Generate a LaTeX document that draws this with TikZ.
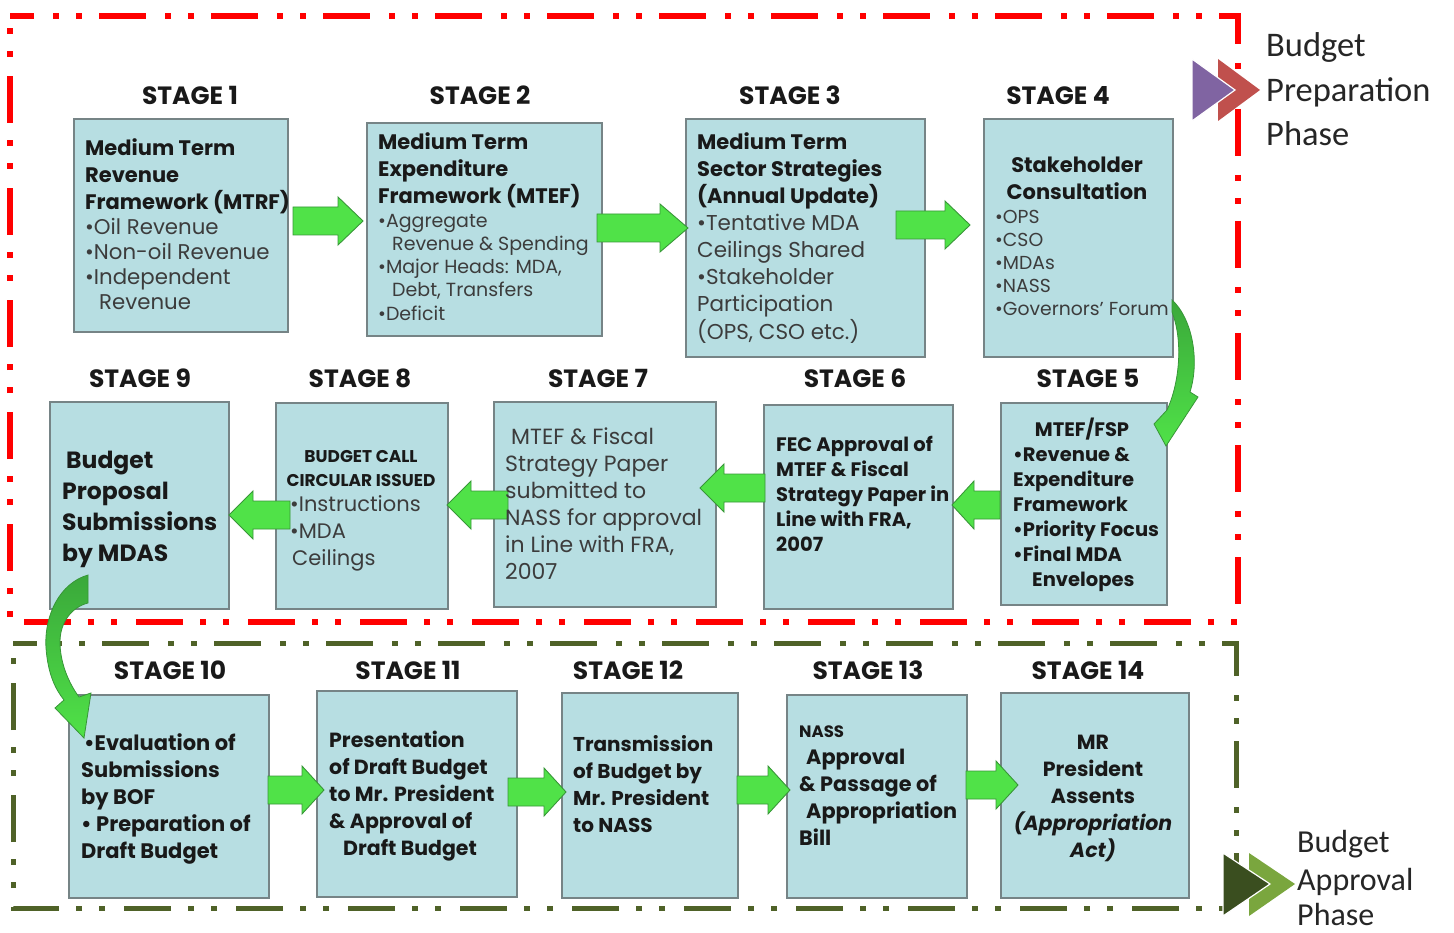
\documentclass[tikz,border=0pt]{standalone}
\usepackage{fontspec}
\setmainfont{Poppins}
\newfontfamily\calib{Carlito}
\usetikzlibrary{calc}
\definecolor{boxfill}{RGB}{183,222,226}
\definecolor{boxline}{RGB}{118,132,134}
\definecolor{agreen}{RGB}{80,226,72}
\definecolor{agreenline}{RGB}{56,150,56}
\definecolor{dgreen}{RGB}{58,168,58}
\definecolor{redb}{RGB}{255,0,0}
\definecolor{oliveb}{RGB}{79,98,40}
\definecolor{purp}{RGB}{128,100,162}
\definecolor{redchev}{RGB}{192,80,77}
\definecolor{dkgreen}{RGB}{58,78,31}
\definecolor{ltgreen}{RGB}{122,166,62}
\definecolor{txt}{RGB}{25,25,25}
\definecolor{txtg}{RGB}{60,60,60}
\definecolor{lbl}{RGB}{38,38,38}
\newcommand{\fb}[1]{\fontsize{#1}{#1}\selectfont\bfseries}
\newcommand{\fr}[1]{\fontsize{#1}{#1}\selectfont}
\newcommand{\tlines}[7]{%
  \foreach \s [count=\i] in {#7} {
    \node[#6, anchor=#2] (#1-\i) at (#3, {#4+(\i-1)*#5}) {\s};
  }}
\newcommand{\rarr}[4]{% tail x, tip x, center y, head length
  \draw[blk] (#1,#3-14) -- (#2-#4,#3-14) -- (#2-#4,#3-24) -- (#2,#3)
    -- (#2-#4,#3+24) -- (#2-#4,#3+14) -- (#1,#3+14) -- cycle;}
\newcommand{\larr}[4]{% tail x, tip x, center y, head length
  \draw[blk] (#1,#3-14) -- (#2+#4,#3-14) -- (#2+#4,#3-24) -- (#2,#3)
    -- (#2+#4,#3+24) -- (#2+#4,#3+14) -- (#1,#3+14) -- cycle;}
\begin{document}
\begin{tikzpicture}[x=1pt,y=-1pt,
  box/.style={draw=boxline, line width=1.6pt, fill=boxfill, anchor=north west, inner sep=0},
  stg/.style={font=\fb{25}, text=txt, anchor=base, inner sep=0},
  tb/.style={text=txt, inner sep=0},
  tr/.style={text=txtg, inner sep=0},
  blk/.style={fill=agreen, draw=agreenline, line width=0.9pt},
  curv/.style={draw=agreenline, line width=0.8pt},
  phase/.style={font=\calib\fontsize{34.5}{34.5}\selectfont, text=lbl, anchor=base west, inner sep=0},
  phaseb/.style={font=\calib\fontsize{32}{32}\selectfont, text=lbl, anchor=base west, inner sep=0},
  brd/.style={line width=6pt, dash pattern=on 47pt off 19pt on 6pt off 17pt on 6pt off 17pt, dash phase=23pt}
]
\useasboundingbox (0,0) rectangle (1454,933);
% borders
\draw[brd, draw=redb] (10,16) -- (1238,16) -- (1238,622) -- (10,622) -- cycle;
\draw[brd, draw=oliveb, line width=5pt] (13,643) -- (1236,643) -- (1236,908) -- (13,908) -- cycle;

% stage labels
\node[stg] (s1) at (190,105) {STAGE 1};
\node[stg] (s2) at (480,105) {STAGE 2};
\node[stg] (s3) at (790,105) {STAGE 3};
\node[stg] (s4) at (1058,105) {STAGE 4};
\node[stg] (s5) at (1088,387) {STAGE 5};
\node[stg] (s6) at (855,387) {STAGE 6};
\node[stg] (s7) at (598,387) {STAGE 7};
\node[stg] (s8) at (360,387) {STAGE 8};
\node[stg] (s9) at (140,387) {STAGE 9};
\node[stg] (s10) at (170,679) {STAGE 10};
\node[stg] (s11) at (408,679) {STAGE 11};
\node[stg] (s12) at (628,679) {STAGE 12};
\node[stg] (s13) at (868,679) {STAGE 13};
\node[stg] (s14) at (1088,679) {STAGE 14};

% boxes
\node[box, minimum width=214, minimum height=213] (b1) at (73,118) {};
\node[box, minimum width=235, minimum height=213] (b2) at (366,122) {};
\node[box, minimum width=239, minimum height=238] (b3) at (685,118) {};
\node[box, minimum width=189, minimum height=238] (b4) at (983,118) {};
\node[box, minimum width=166, minimum height=202] (b5) at (1000,402) {};
\node[box, minimum width=189, minimum height=204] (b6) at (763,404) {};
\node[box, minimum width=222, minimum height=205] (b7) at (493,401) {};
\node[box, minimum width=172, minimum height=206] (b8) at (275,402) {};
\node[box, minimum width=179, minimum height=207] (b9) at (49,401) {};
\node[box, minimum width=200, minimum height=203] (b10) at (68,694) {};
\node[box, minimum width=200, minimum height=206] (b11) at (316,690) {};
\node[box, minimum width=176, minimum height=205] (b12) at (561,692) {};
\node[box, minimum width=180, minimum height=203] (b13) at (786,694) {};
\node[box, minimum width=188, minimum height=205] (b14) at (1000,692) {};

% straight block arrows
\rarr{293}{363}{221}{25}
\rarr{597}{688}{228}{28}
\rarr{896}{970}{225}{25}
\larr{1000}{952}{505}{22}
\larr{765}{700}{488}{24}
\larr{508}{447}{505}{24}
\larr{290}{229}{515}{24}
\rarr{268}{324}{790}{22}
\rarr{508}{566}{792}{22}
\rarr{737}{790}{790}{22}
\rarr{966}{1018}{785}{22}

% curved arrow stage 4 -> stage 5
\draw[curv, top color=dgreen, bottom color=agreen]
  (1172,300) .. controls (1192,318) and (1200,360) .. (1190,392)
  -- (1198,397) -- (1166,446) -- (1154,424) -- (1167,410)
  .. controls (1180,382) and (1183,340) .. (1172,312) -- cycle;

% texts
\tlines{t1}{base west}{85}{156}{27}{tb, font=\fb{21}}{{Medium Term},{Revenue},{Framework (MTRF)}}
\tlines{u1}{base west}{85}{235}{25}{tr, font=\fr{21.3}}{{•Oil Revenue},{•Non-oil Revenue},{•Independent},{\hspace{14pt}Revenue}}

\tlines{t2}{base west}{378}{150}{27}{tb, font=\fb{21}}{{Medium Term},{Expenditure},{Framework (MTEF)}}
\tlines{u2}{base west}{378}{228}{23}{tr, font=\fr{19}}{{•Aggregate},{\hspace{14pt}Revenue \& Spending},{•Major Heads: MDA,},{\hspace{14pt}Debt, Transfers},{•Deficit}}

\tlines{t3}{base west}{697}{150}{27}{tb, font=\fb{21}}{{Medium Term},{Sector Strategies},{(Annual Update)}}
\tlines{u3}{base west}{697}{231}{27}{tr, font=\fr{21.5}}{{•Tentative MDA},{Ceilings Shared},{•Stakeholder},{Participation},{(OPS, CSO etc.)}}

\tlines{t4}{base}{1077}{173}{27}{tb, font=\fb{21}}{{Stakeholder},{Consultation}}
\tlines{u4}{base west}{995}{224}{23}{tr, font=\fr{18.8}}{{•OPS},{•CSO},{•MDAs},{•NASS},{•Governors' Forum}}

\node[tb, font=\fb{19.5}, anchor=base] (t5-0) at (1082,436) {MTEF/FSP};
\tlines{t5}{base west}{1013}{461}{25}{tb, font=\fb{19.5}}{{•Revenue \&},{Expenditure},{Framework},{•Priority Focus},{•Final MDA},{\hspace{19pt}Envelopes}}

\tlines{t6}{base west}{776}{451}{25}{tb, font=\fb{19.5}}{{FEC Approval of},{MTEF \& Fiscal},{Strategy Paper in},{Line with FRA,},{2007}}

\tlines{t7}{base west}{505}{444}{27}{tr, font=\fr{22}}{{\hspace{6pt}MTEF \& Fiscal},{Strategy Paper},{submitted to},{NASS for approval},{in Line with FRA,},{2007}}

\tlines{t8}{base}{361}{462}{24}{tb, font=\fb{17}}{{BUDGET CALL},{CIRCULAR ISSUED}}
\tlines{u8}{base west}{290}{511}{27}{tr, font=\fr{21}}{{•Instructions},{•MDA},{\hspace{2pt}Ceilings}}

\tlines{t9}{base west}{62}{468}{31}{tb, font=\fb{23.5}}{{\hspace{4pt}Budget},{Proposal},{Submissions},{by MDAS}}

\tlines{t10}{base west}{81}{750}{27}{tb, font=\fb{21}}{{\hspace{3pt}•Evaluation of},{Submissions},{by BOF},{• Preparation of},{Draft Budget}}

\tlines{t11}{base west}{329}{747}{27}{tb, font=\fb{20.5}}{{Presentation},{of Draft Budget},{to Mr. President},{\& Approval of},{\hspace{14pt}Draft Budget}}

\tlines{t12}{base west}{573}{751}{27}{tb, font=\fb{20}}{{Transmission},{of Budget by},{Mr. President},{to NASS}}

\node[tb, font=\fb{16.5}, anchor=base west] (t13-0) at (799,737) {NASS};
\tlines{t13}{base west}{799}{764}{27}{tb, font=\fb{20.8}}{{\hspace{7pt}Approval},{\& Passage of},{\hspace{7pt}Appropriation},{Bill}}

\tlines{t14}{base}{1093}{749}{27}{tb, font=\fb{20.5}}{{MR},{President},{Assents},{\itshape(Appropriation},{\itshape Act)}}

% curved arrow stage 9 -> stage 10
\draw[curv, top color=dgreen, bottom color=agreen]
  (88,575) .. controls (60,583) and (44,615) .. (46,648)
  .. controls (48,675) and (56,690) .. (64,700)
  -- (55,708) -- (84,738) -- (91,693) -- (79,697)
  .. controls (68,682) and (60,662) .. (60,642)
  .. controls (60,622) and (72,607) .. (88,603) -- cycle;

% phase markers
\fill[redchev] (1218,59) -- (1260,90) -- (1218,121) -- cycle;
\draw[fill=purp, draw=white, line width=1.2pt] (1192,59) -- (1235,90) -- (1192,121) -- cycle;
\node[phase] (p1) at (1266,57) {Budget};
\node[phase] (p2) at (1266,102) {Preparation};
\node[phase] (p3) at (1266,146) {Phase};

\fill[ltgreen] (1249,853) -- (1295,884) -- (1249,916) -- cycle;
\draw[fill=dkgreen, draw=white, line width=1.2pt] (1223,853) -- (1270,884) -- (1223,916) -- cycle;
\node[phaseb] (q1) at (1297,852) {Budget};
\node[phaseb] (q2) at (1297,890) {Approval};
\node[phaseb] (q3) at (1297,925) {Phase};
\end{tikzpicture}
\end{document}
